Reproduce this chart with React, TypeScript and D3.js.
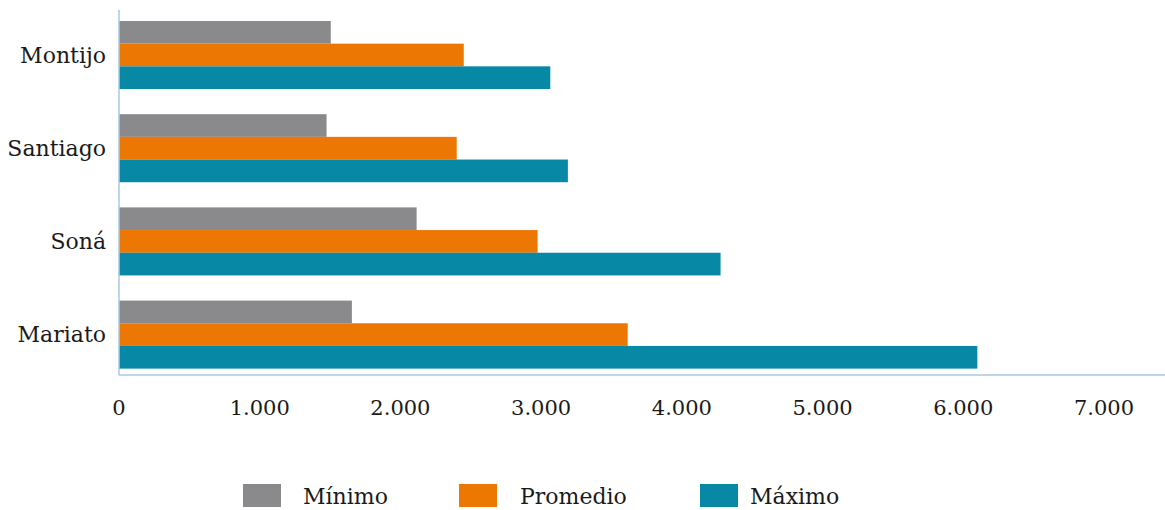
import React from "react";
import * as d3 from "d3";

const categories = ["Montijo", "Santiago", "Soná", "Mariato"];
const seriesNames = ["Mínimo", "Promedio", "Máximo"];
const minimo = [1505, 1475, 2115, 1655];
const promedio = [2450, 2400, 2975, 3615];
const maximo = [3065, 3190, 4275, 6100];
const xTicks = [0, 1000, 2000, 3000, 4000, 5000, 6000, 7000];
const colors = ["#8a8a8c", "#ec7703", "#0788a5"];

const W = 1165;
const H = 510;
const FONT = "'DejaVu Serif', serif";

export default function App() {
  const x = d3.scaleLinear().domain([0, 7000]).range([119, 1104]);
  const y = d3
    .scaleBand<string>()
    .domain(categories)
    .range([8.4, 381.2])
    .paddingInner(0.27)
    .paddingOuter(0.135);
  const sub = d3
    .scaleBand<string>()
    .domain(seriesNames)
    .range([0, y.bandwidth()]);
  const values = [minimo, promedio, maximo];
  const fmt = (v: number) => d3.format(",")(v).replace(/,/g, ".");
  const axisColor = "#a9c8e6";
  const baseY = 375;

  const legendX = [243, 459, 700];
  const legendTextX = [303, 520, 750];

  return (
    <svg
      width={W}
      height={H}
      style={{ position: "absolute", left: 0, top: 0, display: "block" }}
      fontFamily={FONT}
    >
      <rect width={W} height={H} fill="#fff" />
      {categories.map((c, ci) =>
        seriesNames.map((s, si) => (
          <rect
            key={c + s}
            x={x(0)}
            y={(y(c) as number) + (sub(s) as number)}
            width={x(values[si][ci]) - x(0)}
            height={sub.bandwidth()}
            fill={colors[si]}
          />
        ))
      )}
      <line x1={119} x2={119} y1={10} y2={baseY} stroke={axisColor} strokeWidth={1.5} />
      <line x1={119} x2={W} y1={baseY} y2={baseY} stroke={axisColor} strokeWidth={1.5} />
      {categories.map((c) => (
        <text
          key={c}
          x={106}
          y={(y(c) as number) + y.bandwidth() / 2}
          dy="0.35em"
          textAnchor="end"
          fontSize={22}
          fill="#1a1a1a"
        >
          {c}
        </text>
      ))}
      {xTicks.map((t) => (
        <text
          key={t}
          x={x(t)}
          y={408}
          dy="0.35em"
          textAnchor="middle"
          fontSize={21}
          fill="#1a1a1a"
        >
          {fmt(t)}
        </text>
      ))}
      {seriesNames.map((s, i) => (
        <g key={s}>
          <rect x={legendX[i]} y={484} width={38} height={23} fill={colors[i]} />
          <text x={legendTextX[i]} y={496} dy="0.35em" fontSize={22} fill="#1a1a1a">
            {s}
          </text>
        </g>
      ))}
    </svg>
  );
}
